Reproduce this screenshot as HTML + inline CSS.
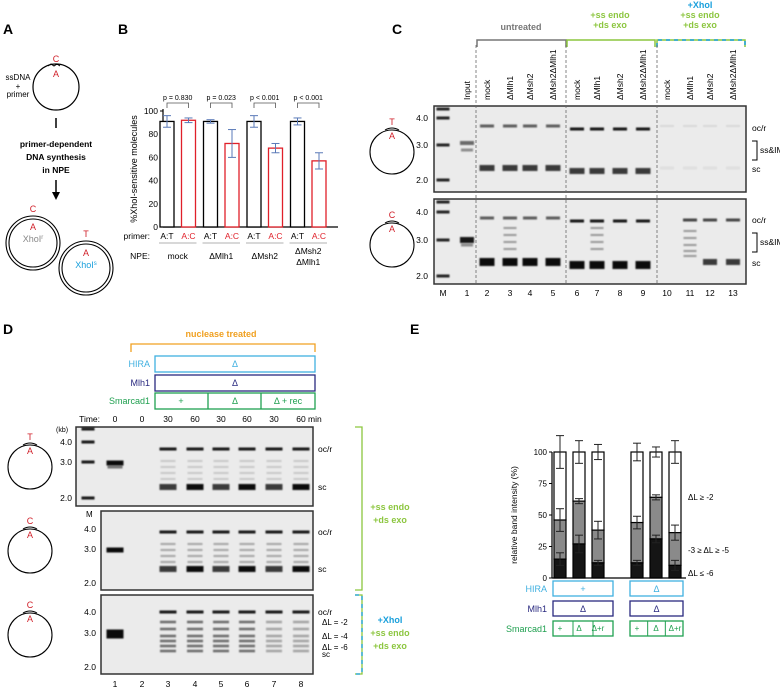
<!DOCTYPE html>
<html><head><meta charset="utf-8"><style>
html,body{margin:0;padding:0;background:#fff}
svg{display:block;font-family:"Liberation Sans",Arial,sans-serif}
</style></head><body>
<svg id="fig" width="780" height="688" viewBox="0 0 780 688" xmlns="http://www.w3.org/2000/svg">
<defs>
<filter id="blur" x="-20%" y="-100%" width="140%" height="300%"><feGaussianBlur stdDeviation="0.9"/></filter>
</defs>

<!-- Panel A -->
<g>
<text x="3" y="34" font-size="14" font-weight="bold">A</text>
<circle cx="56" cy="87" r="23" fill="none" stroke="#000" stroke-width="1.2"/>
<text x="56" y="62" font-size="9" fill="#d0202a" text-anchor="middle">C</text>
<path d="M48 66 l3 -2 l3 2 l3 -2 l3 2" fill="none" stroke="#000" stroke-width="1"/>
<text x="56" y="77" font-size="9" fill="#d0202a" text-anchor="middle">A</text>
<text x="18" y="80" font-size="8" text-anchor="middle">ssDNA</text>
<text x="18" y="89" font-size="8" text-anchor="middle">+</text>
<text x="18" y="97" font-size="8" text-anchor="middle">primer</text>
<line x1="56" y1="118" x2="56" y2="128" stroke="#000" stroke-width="1.5"/>
<text x="56" y="147" font-size="8.5" font-weight="bold" text-anchor="middle">primer-dependent</text>
<text x="56" y="160" font-size="8.5" font-weight="bold" text-anchor="middle">DNA synthesis</text>
<text x="56" y="173" font-size="8.5" font-weight="bold" text-anchor="middle">in NPE</text>
<line x1="56" y1="180" x2="56" y2="194" stroke="#000" stroke-width="1.5"/>
<path d="M52 192 L60 192 L56 200 Z"/>
<circle cx="33" cy="243" r="27" fill="none" stroke="#000" stroke-width="1.1"/>
<circle cx="33" cy="243" r="24" fill="none" stroke="#000" stroke-width="1.1"/>
<text x="33" y="212" font-size="9" fill="#d0202a" text-anchor="middle">C</text>
<text x="33" y="230" font-size="9" fill="#d0202a" text-anchor="middle">A</text>
<text x="33" y="242" font-size="9" fill="#888" text-anchor="middle">XhoI<tspan font-size="6" dy="-3">r</tspan></text>
<circle cx="86" cy="268" r="27" fill="none" stroke="#000" stroke-width="1.1"/>
<circle cx="86" cy="268" r="24" fill="none" stroke="#000" stroke-width="1.1"/>
<text x="86" y="237" font-size="9" fill="#d0202a" text-anchor="middle">T</text>
<text x="86" y="256" font-size="9" fill="#d0202a" text-anchor="middle">A</text>
<text x="86" y="268" font-size="9" fill="#1aa0dc" text-anchor="middle">XhoI<tspan font-size="6" dy="-3">s</tspan></text>
</g>

<!-- Panel B -->
<g id="panelB">
<text x="118" y="34" font-size="14" font-weight="bold">B</text>
<text transform="translate(137,169) rotate(-90)" font-size="9" text-anchor="middle">%XhoI-sensitive molecules</text>
</g>

<!-- Panel C -->
<g id="panelC">
<text x="392" y="34" font-size="14" font-weight="bold">C</text>
</g>

<!-- Panel D -->
<g id="panelD">
<text x="3" y="334" font-size="14" font-weight="bold">D</text>
</g>

<!-- Panel E -->
<g id="panelE">
<text x="410" y="334" font-size="14" font-weight="bold">E</text>
<text transform="translate(517,515) rotate(-90)" font-size="8.5" text-anchor="middle">relative band intensity (%)</text>
</g>
</svg>
<script>
// ---------- Panel B data ----------
const bGroups = ["mock", "ΔMlh1", "ΔMsh2", "ΔMsh2ΔMlh1"];
const bAT = [91, 91, 91, 91];
const bAC = [92, 72, 68, 57];
const bATerr = [5, 1.5, 5, 3];
const bACerr = [2, 12, 4, 7];
const bPvals = ["p = 0.830", "p = 0.023", "p < 0.001", "p < 0.001"];
const bTicks = [0, 20, 40, 60, 80, 100];

// ---------- Panel E data ----------
const eBlack = [15, 27, 12, 12, 31, 10];
const eGray = [46, 61, 38, 44, 64, 36];
const eBlackErr = [5, 7, 2, 2, 3, 4];
const eGrayErr = [9, 2, 7, 5, 2, 6];
const eTopErr = [13, 9, 6, 7, 4, 9];
const eSmarcad = ["+", "Δ", "Δ+r", "+", "Δ", "Δ+r"];
const eTicks = [0, 25, 50, 75, 100];

const NS = "http://www.w3.org/2000/svg";
function mk(parent, tag, attrs, text) {
  const e = document.createElementNS(NS, tag);
  for (const k in attrs) e.setAttribute(k, attrs[k]);
  if (text !== undefined) e.textContent = text;
  parent.appendChild(e);
  return e;
}

// ===== Panel B =====
(function () {
  const g = document.getElementById("panelB");
  const y0 = 227, y100 = 111, ax = 163;
  const yS = v => y0 - (v / 100) * (y0 - y100);
  const gx = i => 175 + i * 43.5;
  const bw = 14;
  const yl = mk(g, "line", { x1: ax, y1: y100 - 2, x2: ax, y2: y0, stroke: "#000", "stroke-width": 1.2 });
  
  
  const xl = mk(g, "line", { x1: ax, y1: y0, x2: 338, y2: y0, stroke: "#000", "stroke-width": 1.2 });
  
  
  bTicks.forEach(t => {
    mk(g, "line", { x1: ax - 3, y1: yS(t), x2: ax, y2: yS(t), stroke: "#000" });
    const tl = mk(g, "text", { x: ax - 5, y: yS(t) + 3, "font-size": 8.5, "text-anchor": "end" }, t);
    
    
  });
  function errbar(x, v, e, col) {
    mk(g, "line", { x1: x, y1: yS(v + e), x2: x, y2: yS(v - e), stroke: col, "stroke-width": 1 });
    mk(g, "line", { x1: x - 4, y1: yS(v + e), x2: x + 4, y2: yS(v + e), stroke: col, "stroke-width": 1 });
    mk(g, "line", { x1: x - 4, y1: yS(v - e), x2: x + 4, y2: yS(v - e), stroke: col, "stroke-width": 1 });
  }
  bGroups.forEach((name, i) => {
    const xa = gx(i) - 8, xc = gx(i) + 13.5;
    const r1 = mk(g, "rect", { x: xa - bw / 2, y: yS(bAT[i]), width: bw, height: y0 - yS(bAT[i]), fill: "#fff", stroke: "#000", "stroke-width": 1.3 });
    
    
    const r2 = mk(g, "rect", { x: xc - bw / 2, y: yS(bAC[i]), width: bw, height: y0 - yS(bAC[i]), fill: "#fff", stroke: "#e0202a", "stroke-width": 1.3 });
    
    
    errbar(xa, bAT[i], bATerr[i], "#5a7ab8");
    errbar(xc, bAC[i], bACerr[i], "#5a7ab8");
    mk(g, "path", { d: `M${xa} 108 V103 H${xc} V108`, fill: "none", stroke: "#555", "stroke-width": 0.8 });
    const pl = mk(g, "text", { x: (xa + xc) / 2, y: 100, "font-size": 7, "text-anchor": "middle" }, bPvals[i]);
    
    
    mk(g, "text", { x: xa, y: 239, "font-size": 8.5, "text-anchor": "middle" }, "A:T");
    mk(g, "text", { x: xc, y: 239, "font-size": 8.5, "text-anchor": "middle", fill: "#e0202a" }, "A:C");
    mk(g, "line", { x1: xa - 8, y1: 243, x2: xc + 8, y2: 243, stroke: "#999", "stroke-width": 0.8 });
    const cx = (xa + xc) / 2;
    if (name === "ΔMsh2ΔMlh1") {
      mk(g, "text", { x: cx, y: 254, "font-size": 8.5, "text-anchor": "middle" }, "ΔMsh2");
      mk(g, "text", { x: cx, y: 265, "font-size": 8.5, "text-anchor": "middle" }, "ΔMlh1");
    } else {
      const nl = mk(g, "text", { x: cx, y: 259, "font-size": 8.5, "text-anchor": "middle" }, name);
      
      
    }
  });
  mk(g, "text", { x: 150, y: 239, "font-size": 8.5, "text-anchor": "end" }, "primer:");
  mk(g, "text", { x: 150, y: 259, "font-size": 8.5, "text-anchor": "end" }, "NPE:");
})();

// ===== generic gel helpers =====
function gelBox(g, x, y, w, h, name) {
  const r = mk(g, "rect", { x, y, width: w, height: h, fill: "#ebebeb", stroke: "#333", "stroke-width": 1.5 });
  
  
}
function band(g, x, y, w, h, op) {
  mk(g, "rect", { x: x - w / 2, y: y - h / 2, width: w, height: h, fill: "#000", opacity: op, filter: "url(#blur)" });
}
function circ(g, cx, cy, top, bot) {
  mk(g, "circle", { cx, cy, r: 22, fill: "none", stroke: "#000", "stroke-width": 1.1 });
  mk(g, "text", { x: cx, y: cy - 27, "font-size": 9, fill: "#d0202a", "text-anchor": "middle" }, top);
  mk(g, "text", { x: cx, y: cy - 13, "font-size": 9, fill: "#d0202a", "text-anchor": "middle" }, bot);
  mk(g, "path", { d: `M${cx - 7} ${cy - 22} q7 -4 14 0`, fill: "none", stroke: "#000", "stroke-width": 1 });
}

// ===== Panel C =====
(function () {
  const g = document.getElementById("panelC");
  const lanes = [443, 467, 487, 510, 530, 553, 577, 597, 620, 643, 667, 690, 710, 733];
  const laneLabels = ["", "Input", "mock", "ΔMlh1", "ΔMsh2", "ΔMsh2ΔMlh1", "mock", "ΔMlh1", "ΔMsh2", "ΔMsh2ΔMlh1", "mock", "ΔMlh1", "ΔMsh2", "ΔMsh2ΔMlh1"];
  laneLabels.forEach((l, i) => {
    if (!l) return;
    const t = mk(g, "text", { transform: `translate(${lanes[i] + 3},100) rotate(-90)`, "font-size": 8.5 }, l);
    
    
  });
  // brackets
  mk(g, "path", { d: "M477 47 V40 H566 V47", fill: "none", stroke: "#777", "stroke-width": 1.5 });
  mk(g, "text", { x: 521, y: 30, "font-size": 9, fill: "#777", "font-weight": "bold", "text-anchor": "middle" }, "untreated");
  mk(g, "path", { d: "M567 47 V40 H655 V47", fill: "none", stroke: "#8cc63f", "stroke-width": 1.5 });
  mk(g, "text", { x: 610, y: 18, "font-size": 9, fill: "#8cc63f", "font-weight": "bold", "text-anchor": "middle" }, "+ss endo");
  mk(g, "text", { x: 610, y: 28, "font-size": 9, fill: "#8cc63f", "font-weight": "bold", "text-anchor": "middle" }, "+ds exo");
  mk(g, "path", { d: "M657 47 V40 H745 V47", fill: "none", stroke: "#8cc63f", "stroke-width": 1.5 });
  mk(g, "path", { d: "M657 47 V40 H745 V47", fill: "none", stroke: "#1aa0dc", "stroke-width": 1.5, "stroke-dasharray": "4 4" });
  mk(g, "text", { x: 700, y: 8, "font-size": 9, fill: "#1aa0dc", "font-weight": "bold", "text-anchor": "middle" }, "+XhoI");
  mk(g, "text", { x: 700, y: 18, "font-size": 9, fill: "#8cc63f", "font-weight": "bold", "text-anchor": "middle" }, "+ss endo");
  mk(g, "text", { x: 700, y: 28, "font-size": 9, fill: "#8cc63f", "font-weight": "bold", "text-anchor": "middle" }, "+ds exo");

  const gels = [{ y: 106, h: 86, k4: 118, k3: 145, k2: 180, oc: 126, sc: 168, top: "T", id: 0 },
                { y: 199, h: 85, k4: 212, k3: 240, k2: 276, oc: 218, sc: 262, top: "C", id: 1 }];
  gels.forEach(G => {
    gelBox(g, 434, G.y, 312, G.h, "gel-c-" + (G.id + 1));
    // markers
    [G.y + 3, G.k4, G.k3, G.k2].forEach(y => band(g, 443, y, 13, 3, 0.85));
    [["4.0", G.k4], ["3.0", G.k3], ["2.0", G.k2]].forEach(([t, y]) => mk(g, "text", { x: 428, y: y + 3, "font-size": 8.5, "text-anchor": "end" }, t));
    circ(g, 392, G.y + 46, G.top, "A");
    // input
    band(g, 467, G.k3 - 2 + G.id * 2, 14, G.id ? 6 : 4, G.id ? 0.9 : 0.55);
    band(g, 467, G.k3 + 5, 12, 3, 0.4);
    for (let i = 2; i < 14; i++) {
      const x = lanes[i];
      if (i >= 10) {
        if (G.id === 0) { band(g, x, G.oc, 14, 2, 0.08); band(g, x, G.sc, 14, 3, 0.05); }
        else if (i === 10) {}
        else {
          band(g, x, G.oc + 2, 14, 3, 0.7);
          if (i === 11) [231, 238, 245, 251, 256].forEach(y => band(g, x, y, 13, 2, 0.35));
          else band(g, x, G.sc, 14, 6, 0.75);
        }
        continue;
      }
      const strong = i >= 6;
      band(g, x, G.oc + (strong ? 3 : 0), 14, 3, strong ? 0.9 : 0.6);
      band(g, x, G.sc + (strong ? 3 : 0), 15, G.id ? 8 : 6, G.id ? 0.95 : 0.75);
      if (G.id === 1 && (i === 3 || i === 7)) [228, 235, 242, 249].forEach(y => band(g, x, y, 13, 2, 0.35));
    }
    mk(g, "text", { x: 752, y: G.oc + 5, "font-size": 8.5 }, "oc/r");
    mk(g, "text", { x: 752, y: G.sc + 4, "font-size": 8.5 }, "sc");
    mk(g, "path", { d: `M752 ${G.oc + 15} H757 V${G.oc + 34} H752`, fill: "none", stroke: "#000" });
    mk(g, "text", { x: 760, y: G.oc + 27, "font-size": 8.5 }, "ss&IM");
  });
  [476, 566, 657].forEach(x => mk(g, "line", { x1: x, y1: 45, x2: x, y2: 285, stroke: "#666", "stroke-width": 0.8, "stroke-dasharray": "3 2" }));
  ["M", "1", "2", "3", "4", "5", "6", "7", "8", "9", "10", "11", "12", "13"].forEach((t, i) => {
    const n = mk(g, "text", { x: lanes[i], y: 296, "font-size": 8.5, "text-anchor": "middle" }, t);
    
    
  });
})();

// ===== Panel D =====
(function () {
  const g = document.getElementById("panelD");
  const lanes = [88, 115, 142, 168, 195, 221, 247, 274, 301];
  mk(g, "text", { x: 221, y: 337, "font-size": 9, fill: "#f0a020", "font-weight": "bold", "text-anchor": "middle" }, "nuclease treated");
  mk(g, "path", { d: "M131 352 V344 H315 V352", fill: "none", stroke: "#f0a020", "stroke-width": 1.3 });
  const hb = mk(g, "rect", { x: 155, y: 356, width: 160, height: 16, fill: "none", stroke: "#40b0e0", "stroke-width": 1.3 });
   
  mk(g, "text", { x: 150, y: 367, "font-size": 9, fill: "#40b0e0", "text-anchor": "end" }, "HIRA");
  mk(g, "text", { x: 235, y: 367, "font-size": 9, fill: "#40b0e0", "text-anchor": "middle" }, "Δ");
  mk(g, "rect", { x: 155, y: 375, width: 160, height: 16, fill: "none", stroke: "#2a2a80", "stroke-width": 1.3 });
  mk(g, "text", { x: 150, y: 386, "font-size": 9, fill: "#2a2a80", "text-anchor": "end" }, "Mlh1");
  mk(g, "text", { x: 235, y: 386, "font-size": 9, fill: "#2a2a80", "text-anchor": "middle" }, "Δ");
  mk(g, "rect", { x: 155, y: 393, width: 160, height: 16, fill: "none", stroke: "#20a050", "stroke-width": 1.3 });
  mk(g, "line", { x1: 208, y1: 393, x2: 208, y2: 409, stroke: "#20a050", "stroke-width": 1.3 });
  mk(g, "line", { x1: 261, y1: 393, x2: 261, y2: 409, stroke: "#20a050", "stroke-width": 1.3 });
  mk(g, "text", { x: 150, y: 404, "font-size": 9, fill: "#20a050", "text-anchor": "end" }, "Smarcad1");
  [["+", 181], ["Δ", 235], ["Δ + rec", 288]].forEach(([t, x]) => mk(g, "text", { x, y: 404, "font-size": 9, fill: "#20a050", "text-anchor": "middle" }, t));
  mk(g, "text", { x: 100, y: 422, "font-size": 8.5, "text-anchor": "end" }, "Time:");
  ["0", "0", "30", "60", "30", "60", "30", "60 min"].forEach((t, i) => mk(g, "text", { x: lanes[i + 1] - (i === 7 ? -8 : 0), y: 422, "font-size": 8.5, "text-anchor": "middle" }, t));
  mk(g, "text", { x: 56, y: 432, "font-size": 7 }, "(kb)");

  const gels = [{ y: 427, k: [442, 462, 498], oc: 449, sc: 487, top: "T", id: 0 },
                { y: 511, k: [529, 549, 583], oc: 532, sc: 569, top: "C", id: 1 },
                { y: 595, k: [612, 633, 667], oc: 612, sc: 653, top: "C", id: 2 }];
  gels.forEach(G => {
    const x0 = G.id === 0 ? 76 : 101;
    gelBox(g, x0, G.y, 313 - x0, 79, "gel-d-" + (G.id + 1));
    if (G.id === 0) [429, 442, 462, 498].forEach(y => band(g, 88, y, 13, 3, 0.9));
    [["4.0", G.k[0]], ["3.0", G.k[1]], ["2.0", G.k[2]]].forEach(([t, y]) => mk(g, "text", { x: 72 + (G.id ? 24 : 0), y: y + 3, "font-size": 8.5, "text-anchor": "end" }, t));
    circ(g, 30, G.y + 40, G.top, "A");
    band(g, 115, G.k[1] + 1, 17, G.id === 2 ? 9 : 5, 0.95);
    if (G.id === 0) band(g, 115, 467, 15, 3, 0.5);
    for (let i = 3; i <= 8; i++) {
      const x = lanes[i];
      band(g, x, G.oc, 17, 3, 0.9);
      if (G.id === 2) {
        [622, 629, 636, 641, 646, 651].forEach(y => band(g, x, y, 16, 2.5, i <= 6 ? 0.55 : 0.3));
      } else {
        band(g, x, G.sc, 17, 6, i % 2 === 0 ? 0.95 : 0.75);
        [G.oc + 12, G.oc + 18, G.oc + 24, G.oc + 30].forEach(y => band(g, x, y, 15, 2, G.id ? 0.3 : 0.15));
      }
    }
    mk(g, "text", { x: 318, y: G.oc + 3, "font-size": 8.5 }, "oc/r");
    if (G.id < 2) mk(g, "text", { x: 318, y: G.sc + 3, "font-size": 8.5 }, "sc");
  });
  mk(g, "text", { x: 86, y: 517, "font-size": 8 }, "M");
  [["ΔL = -2", 625], ["ΔL = -4", 639], ["ΔL = -6", 650], ["sc", 657]].forEach(([t, y]) => mk(g, "text", { x: 322, y, "font-size": 8 }, t));
  mk(g, "path", { d: "M355 427 H362 V590 H355", fill: "none", stroke: "#8cc63f", "stroke-width": 1.3 });
  mk(g, "text", { x: 390, y: 510, "font-size": 9, fill: "#8cc63f", "font-weight": "bold", "text-anchor": "middle" }, "+ss endo");
  mk(g, "text", { x: 390, y: 523, "font-size": 9, fill: "#8cc63f", "font-weight": "bold", "text-anchor": "middle" }, "+ds exo");
  mk(g, "path", { d: "M355 595 H362 V674 H355", fill: "none", stroke: "#8cc63f", "stroke-width": 1.3 });
  mk(g, "path", { d: "M355 595 H362 V674 H355", fill: "none", stroke: "#1aa0dc", "stroke-width": 1.3, "stroke-dasharray": "4 4" });
  mk(g, "text", { x: 390, y: 623, "font-size": 9, fill: "#1aa0dc", "font-weight": "bold", "text-anchor": "middle" }, "+XhoI");
  mk(g, "text", { x: 390, y: 636, "font-size": 9, fill: "#8cc63f", "font-weight": "bold", "text-anchor": "middle" }, "+ss endo");
  mk(g, "text", { x: 390, y: 649, "font-size": 9, fill: "#8cc63f", "font-weight": "bold", "text-anchor": "middle" }, "+ds exo");
  for (let i = 1; i <= 8; i++) {
    const n = mk(g, "text", { x: lanes[i], y: 687, "font-size": 8.5, "text-anchor": "middle" }, i);
    
    
  }
})();

// ===== Panel E =====
(function () {
  const g = document.getElementById("panelE");
  const y0 = 578, y100 = 452, ax = 552;
  const yS = v => y0 - (v / 100) * (y0 - y100);
  const bx = i => (i < 3 ? 560 + i * 19 : 637 + (i - 3) * 19);
  const bw = 12;
  const yl = mk(g, "line", { x1: ax, y1: y100, x2: ax, y2: y0, stroke: "#000", "stroke-width": 1.2 });
   
  const xl = mk(g, "line", { x1: ax, y1: y0, x2: 686, y2: y0, stroke: "#000", "stroke-width": 1.2 });
   
  eTicks.forEach(t => {
    mk(g, "line", { x1: ax - 3, y1: yS(t), x2: ax, y2: yS(t), stroke: "#000" });
    const tl = mk(g, "text", { x: ax - 5, y: yS(t) + 3, "font-size": 8, "text-anchor": "end" }, t);
     
  });
  function err(x, v, e) {
    mk(g, "line", { x1: x, y1: yS(v + e), x2: x, y2: yS(v - e), stroke: "#222" });
    mk(g, "line", { x1: x - 4, y1: yS(v + e), x2: x + 4, y2: yS(v + e), stroke: "#222" });
    mk(g, "line", { x1: x - 4, y1: yS(v - e), x2: x + 4, y2: yS(v - e), stroke: "#222" });
  }
  eBlack.forEach((b, i) => {
    const x = bx(i);
    const w = mk(g, "rect", { x: x - bw / 2, y: yS(100), width: bw, height: yS(eGray[i]) - yS(100), fill: "#fff", stroke: "#000", "stroke-width": 1.2 });
     
    const gr = mk(g, "rect", { x: x - bw / 2, y: yS(eGray[i]), width: bw, height: yS(b) - yS(eGray[i]), fill: "#8a8a8a", stroke: "#000", "stroke-width": 1.2 });
     
    const bk = mk(g, "rect", { x: x - bw / 2, y: yS(b), width: bw, height: y0 - yS(b), fill: "#151515", stroke: "#000", "stroke-width": 1.2 });
     
    err(x, 100, eTopErr[i]); err(x, eGray[i], eGrayErr[i]); err(x, b, eBlackErr[i]);
    mk(g, "text", { x, y: 631, "font-size": 8, fill: "#20a050", "text-anchor": "middle" }, eSmarcad[i]);
  });
  mk(g, "text", { x: 688, y: 500, "font-size": 8 }, "ΔL ≥ -2");
  mk(g, "text", { x: 688, y: 553, "font-size": 8 }, "-3 ≥ ΔL ≥ -5");
  mk(g, "text", { x: 688, y: 576, "font-size": 8 }, "ΔL ≤  -6");
  const rows = [["HIRA", "#40b0e0", 581, ["+", "Δ"]], ["Mlh1", "#2a2a80", 601, ["Δ", "Δ"]], ["Smarcad1", "#20a050", 621, null]];
  rows.forEach(([lab, col, y, t]) => {
    mk(g, "text", { x: 547, y: y + 11, "font-size": 9, fill: col, "text-anchor": "end" }, lab);
    [[553, 613], [630, 683]].forEach(([a, b], k) => {
      mk(g, "rect", { x: a, y, width: b - a, height: 15, fill: "none", stroke: col, "stroke-width": 1.3 });
      if (t) mk(g, "text", { x: (a + b) / 2, y: y + 11, "font-size": 9, fill: col, "text-anchor": "middle" }, t[k]);
      else { mk(g, "line", { x1: a + (b - a) / 3, y1: y, x2: a + (b - a) / 3, y2: y + 15, stroke: col }); mk(g, "line", { x1: a + 2 * (b - a) / 3, y1: y, x2: a + 2 * (b - a) / 3, y2: y + 15, stroke: col }); }
    });
  });
})();
</script>
</body></html>
